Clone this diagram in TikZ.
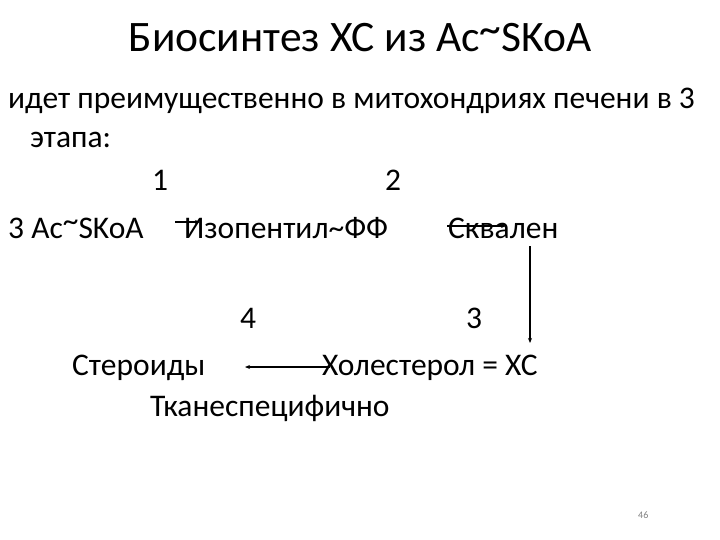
\documentclass[tikz,border=0pt]{standalone}
\usepackage{fontspec}
\setmainfont{Carlito}
\usetikzlibrary{arrows.meta}
\newcommand{\hitilde}{\raisebox{0.2em}{\char`\~}}
\tikzset{
  txt/.style={anchor=base west, inner sep=0pt, font=\fontsize{31.5}{34}\selectfont},
  ttl/.style={anchor=base, inner sep=0pt, font=\fontsize{43.5}{48}\selectfont},
  arr/.style={draw, line width=1.2pt, -{Stealth[length=5pt,width=4pt]}},
  pg/.style={anchor=base west, inner sep=0pt, font=\fontsize{10}{12}\selectfont, text=gray}
}
\begin{document}
\begin{tikzpicture}[x=1pt,y=-1pt]
\useasboundingbox (0,0) rectangle (720,540);
\node[ttl] (title) at (360,52) {Биосинтез ХС из Ac\hitilde SKoA};
\node[txt] (l1) at (8,109) {идет преимущественно в митохондриях печени в 3};
\node[txt] (l2) at (30,148) {этапа:};
\node[txt] (n1) at (152,191) {1};
\node[txt] (n2) at (385,191) {2};
\node[txt] (acoa) at (8,238) {3 Ac\hitilde SKoA};
\node[txt] (ipp) at (184,238) {Изопентил\char`\~ФФ};
\node[txt] (sq) at (448,239) {Сквален};
\node[txt] (n4) at (240,328) {4};
\node[txt] (n3) at (466,328) {3};
\node[txt] (ster) at (72,375) {Стероиды};
\node[txt] (chol) at (322,375) {Холестерол = ХС};
\node[txt] (tk) at (150,416) {Тканеспецифично};
\node[pg] (page) at (638,518) {46};
\coordinate (a1s) at (175,222);
\coordinate (a1e) at (200,222);
\coordinate (a2s) at (447,226);
\coordinate (a2e) at (506,226);
\coordinate (a3s) at (530,246);
\coordinate (a3e) at (530,343);
\coordinate (a4s) at (330,367);
\coordinate (a4e) at (245,367);
\draw[arr] (a1s) -- (a1e);
\draw[arr] (a2s) -- (a2e);
\draw[arr] (a3s) -- (a3e);
\draw[arr] (a4s) -- (a4e);
\end{tikzpicture}
\end{document}
